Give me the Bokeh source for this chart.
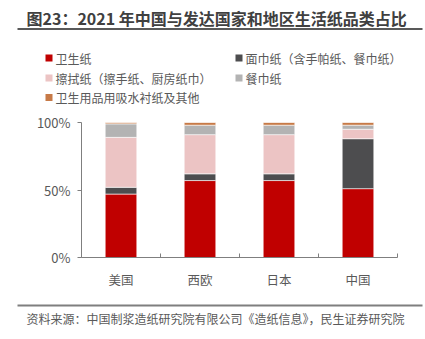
from bokeh.plotting import figure
from bokeh.layouts import column
from bokeh.models import FixedTicker, ColumnDataSource, Range1d
from bokeh.core.properties import value
from bokeh.embed import file_html
from bokeh.resources import INLINE

# ---- data ----
categories = ["美国", "西欧", "日本", "中国"]
series_names = ["卫生纸", "面巾纸（含手帕纸、餐巾纸）", "擦拭纸（擦手纸、厨房纸巾）",
                "餐巾纸", "卫生用品用吸水衬纸及其他"]
toilet = [47, 57, 57, 51]
facial = [5, 5, 5, 37]
wiping = [37, 29, 29, 7]
napkin = [10, 7, 7, 3]
other = [1, 2, 2, 2]
colors = ["#C00000", "#4D4D4F", "#ECC4C4", "#B3B3B3", "#C77A47"]
y_ticks = [0, 50, 100]
y_tick_labels = ["0%", "50%", "100%"]

title_text = "图23：2021 年中国与发达国家和地区生活纸品类占比"
source_text = "资料来源：中国制浆造纸研究院有限公司《造纸信息》，民生证券研究院"

FONT = "Noto Sans CJK SC"
W = 425
H_HEAD, H_MAIN, H_FOOT = 112, 190, 37
axis_color = "#7F7F7F"
label_color = "#595959"


def blank(h):
    f = figure(width=W, height=h, output_backend="svg", toolbar_location=None,
               x_range=Range1d(0, W), y_range=Range1d(h, 0), frame_align=False,
               min_border=0, min_border_left=0, min_border_right=0,
               min_border_top=0, min_border_bottom=0)
    f.axis.visible = False
    f.grid.visible = False
    f.outline_line_color = None
    f.background_fill_color = "white"
    f.border_fill_color = "white"
    return f


# ---- header: title, rule, legend ----
head = blank(H_HEAD)
head.text(x=[26], y=[17], text=[title_text], text_font=value(FONT),
          text_font_size="16px", text_font_style="bold", text_color="#404040",
          text_baseline="middle")
head.segment(x0=[17], y0=[28.5], x1=[422], y1=[28.5], line_color="#595959", line_width=2)

leg_x = [48.5, 238.5, 48.5, 238.5, 48.5]
leg_y = [57.5, 57.5, 77.5, 77.5, 97]
head.scatter(x=leg_x, y=leg_y, marker="square", size=7, color=colors, line_color=None)
head.text(x=[v + 6.5 for v in leg_x], y=leg_y, text=series_names, text_font=value(FONT),
          text_font_size="12px", text_color=label_color, text_baseline="middle")

# ---- main chart ----
keys = ["s0", "s1", "s2", "s3", "s4"]
xs = [i + 0.5 for i in range(len(categories))]
src = ColumnDataSource(dict(x=xs, s0=toilet, s1=facial, s2=wiping, s3=napkin, s4=other))

p = figure(width=W, height=H_MAIN, output_backend="svg", toolbar_location=None,
           x_range=Range1d(0, len(categories)), y_range=Range1d(0, 100), frame_align=False,
           min_border_left=81, min_border_right=28, min_border_top=10, min_border_bottom=45)
p.outline_line_color = None
p.grid.visible = False
p.background_fill_color = "white"
p.border_fill_color = "white"

p.vbar_stack(keys, x="x", width=0.4, source=src, color=colors,
             line_color="white", line_width=0.6)

p.yaxis.ticker = FixedTicker(ticks=y_ticks)
p.yaxis.major_label_overrides = {t: l for t, l in zip(y_ticks, y_tick_labels)}
p.yaxis.axis_line_color = axis_color
p.yaxis.major_tick_line_color = axis_color
p.yaxis.major_tick_out = 4
p.yaxis.major_tick_in = 0
p.yaxis.minor_tick_line_color = None
p.yaxis.major_label_text_color = label_color
p.yaxis.major_label_text_font = FONT
p.yaxis.major_label_text_font_size = "13px"
p.yaxis.major_label_standoff = 7

p.xaxis.ticker = FixedTicker(ticks=xs, minor_ticks=list(range(len(categories) + 1)))
p.xaxis.major_label_overrides = {x: c for x, c in zip(xs, categories)}
p.xaxis.axis_line_color = axis_color
p.xaxis.major_tick_line_color = None
p.xaxis.major_tick_out = 0
p.xaxis.major_tick_in = 0
p.xaxis.minor_tick_line_color = axis_color
p.xaxis.minor_tick_in = 4
p.xaxis.minor_tick_out = 0
p.xaxis.major_label_text_color = label_color
p.xaxis.major_label_text_font = FONT
p.xaxis.major_label_text_font_size = "12.5px"
p.xaxis.major_label_standoff = 12

# ---- footer ----
foot = blank(H_FOOT)
foot.segment(x0=[17], y0=[3], x1=[422], y1=[3], line_color="#7F7F7F", line_width=2)
foot.text(x=[26], y=[16], text=[source_text], text_font=value(FONT),
          text_font_size="12px", text_color=label_color, text_baseline="middle")

layout = column(head, p, foot, spacing=0)
open("out.html", "w").write(file_html(layout, INLINE))
